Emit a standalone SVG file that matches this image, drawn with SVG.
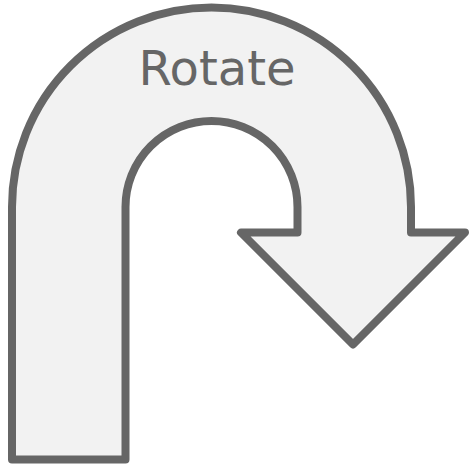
<svg xmlns="http://www.w3.org/2000/svg" width="470" height="466" viewBox="0 0 470 466">
<style>
.shape{fill:#f2f2f2;stroke:#666666;stroke-width:8;stroke-linejoin:round}
.lbl{font-family:"DejaVu Sans",Verdana,sans-serif;font-size:48px;fill:#666666;text-anchor:middle}
</style>
<rect width="470" height="466" fill="#ffffff"/>
<g id="uturn">
<path class="shape" d="M12,459.5 L12,207 A199.5,199.5 0 0 1 411,207 L411,232.5 L465,232.5 L353,344.5 L241,232.5 L297.5,232.5 L297.5,207 A86,86 0 0 0 125.5,207 L125.5,459.5 Z"/>
<text class="lbl" x="217" y="85">Rotate</text>
</g>
<g id="connectors"/>
</svg>
